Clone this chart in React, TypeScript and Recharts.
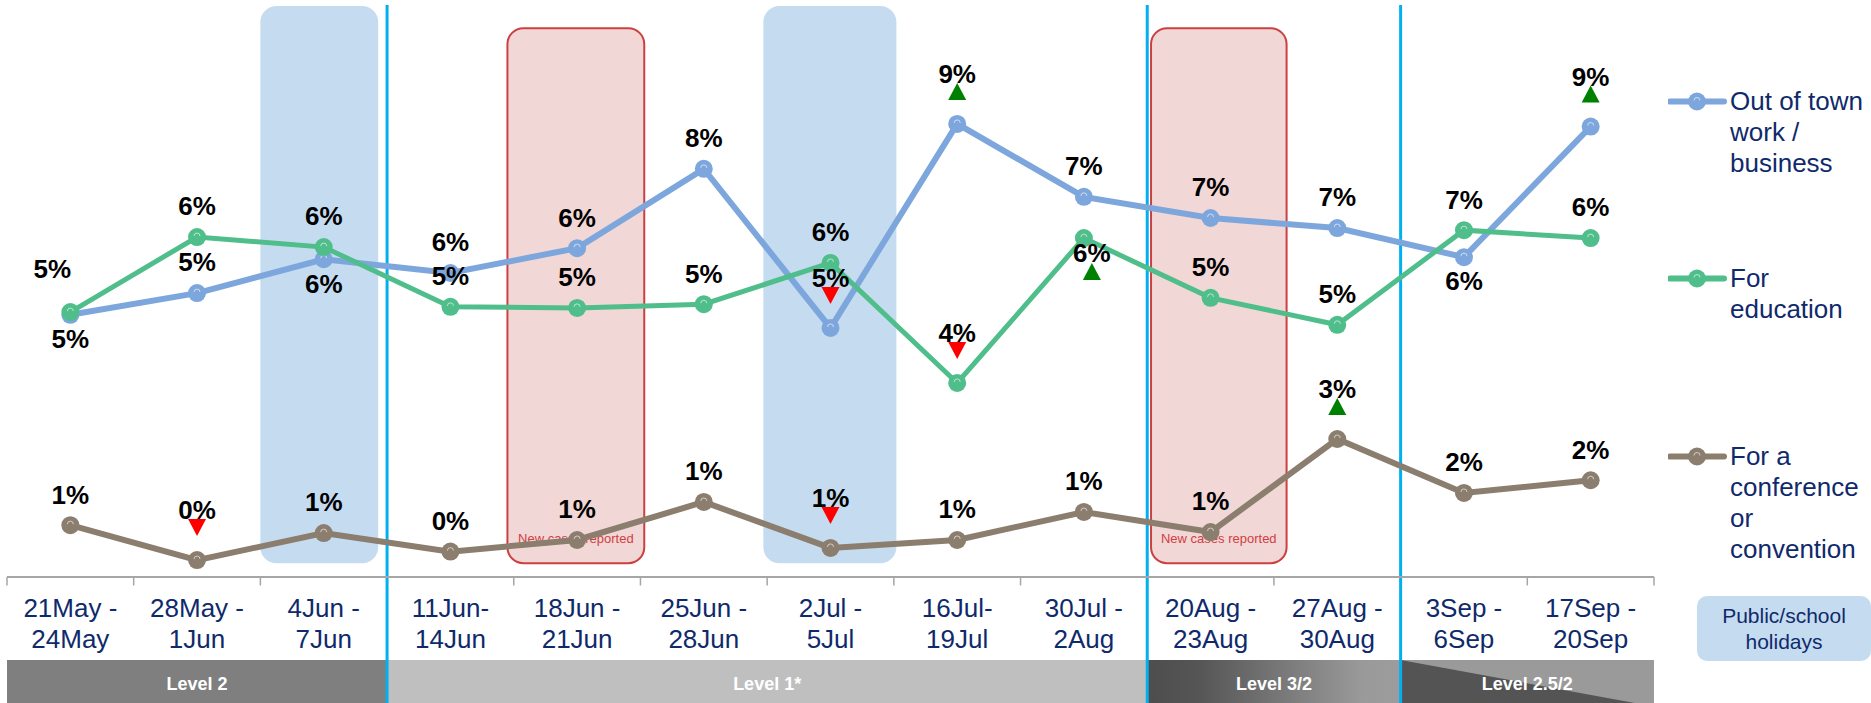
import React from 'react';
import {
  ComposedChart,
  Line,
  XAxis,
  YAxis,
  ReferenceArea,
  ReferenceLine,
  LabelList,
  Legend,
} from 'recharts';

// week tick labels (two lines each)
const weekStart = ['21May -', '28May -', '4Jun -', '11Jun-', '18Jun -', '25Jun -', '2Jul -', '16Jul-', '30Jul -', '20Aug -', '27Aug -', '3Sep -', '17Sep -'];
const weekEnd = ['24May', '1Jun', '7Jun', '14Jun', '21Jun', '28Jun', '5Jul', '19Jul', '2Aug', '23Aug', '30Aug', '6Sep', '20Sep'];

// % of travellers by purpose
const outOfTown = [4.96, 5.37, 6.01, 5.75, 6.22, 7.72, 4.71, 8.57, 7.19, 6.79, 6.6, 6.05, 8.52];
const education = [5.01, 6.43, 6.24, 5.11, 5.09, 5.16, 5.94, 3.67, 6.41, 5.28, 4.77, 6.56, 6.41];
const conference = [0.98, 0.32, 0.83, 0.48, 0.7, 1.42, 0.55, 0.7, 1.23, 0.85, 2.61, 1.59, 1.83];

// significant change vs previous wave
type Sig = 'up' | 'down' | null;
const outOfTownSig: Sig[] = [null, null, null, null, null, null, 'down', 'up', null, null, null, null, 'up'];
const educationSig: Sig[] = [null, null, null, null, null, null, null, 'down', 'up', null, null, null, null];
const conferenceSig: Sig[] = [null, 'down', null, null, null, null, 'down', null, null, null, 'up', null, null];

// alert levels and how many weeks each one covers
const levels = ['Level 2', 'Level 1*', 'Level 3/2', 'Level 2.5/2'];
const levelWeeks = [3, 6, 2, 2];

// weeks with holidays / new cases
const holidayWeeks = [2, 6];
const newCasesWeeks = [4, 9];

const seriesNames = ['Out of town work / business', 'For education', 'For a conference or convention'];

const data = weekStart.map((w, i) => ({
  i,
  outOfTown: outOfTown[i],
  education: education[i],
  conference: conference[i],
}));

const FONT = '"Liberation Sans", Arial, sans-serif';
const NAVY = '#0f2a6b';
const BLUE = '#7da7dc';
const GREEN = '#4fbe8a';
const BROWN = '#8b7e6e';

// annotation box extents, in week units
const holidaySpans = [[1.5, 2.43], [5.47, 6.52]];
const newCaseSpans = [[3.45, 4.53], [8.53, 9.6]];

const labelPlace: Record<string, Record<number, string>> = {
  outOfTown: { 0: 'below', 2: 'below', 11: 'below' },
  education: { 0: 'aboveLeft', 8: 'belowSig' },
  conference: {},
};

const makeDot = (color: string) => (p: any) => {
  const { cx, cy, index } = p;
  if (cx == null || cy == null) return <g key={index} />;
  return (
    <g key={`d${index}`}>
      <circle cx={cx} cy={cy} r={9} fill={color} />
      <path d={`M ${cx - 3} ${cy - 1} A 3 3 0 0 1 ${cx + 3} ${cy - 1}`} stroke="rgba(255,255,255,0.6)" strokeWidth={1} fill="none" />
    </g>
  );
};

const triangle = (tx: number, top: number, bottom: number, dir: Sig) => {
  if (dir === 'up')
    return <polygon points={`${tx - 9},${bottom} ${tx + 9},${bottom} ${tx},${top}`} fill="#008000" />;
  return <polygon points={`${tx - 9},${top} ${tx + 9},${top} ${tx},${bottom}`} fill="#ff0000" />;
};

const makeLabel = (values: number[], sig: Sig[], place: Record<number, string>) => (props: any) => {
  const { x, y, index } = props;
  if (x == null || y == null) return null;
  const s = sig[index];
  const p = place[index];
  let lx = x;
  let ly = y - 31;
  let tri: any = null;
  if (p === 'below') ly = y + 24;
  else if (p === 'aboveLeft') {
    lx = x - 18;
    ly = y - 43;
  } else if (p === 'belowSig') {
    lx = x + 8;
    ly = y + 15;
    tri = triangle(lx, y + 25, y + 42, s);
  } else if (s) {
    ly = y - 50;
    tri = triangle(x, y - 41, y - 24, s);
  }
  return (
    <g key={`l${index}`}>
      <text x={lx} y={ly} dy="0.36em" textAnchor="middle" fontFamily={FONT} fontWeight="bold" fontSize={26} fill="#000">
        {`${Math.round(values[index])}%`}
      </text>
      {tri}
    </g>
  );
};

const CatTick = (props: any) => {
  const { x, y, payload } = props;
  const i = payload.value;
  return (
    <text x={x} y={y} textAnchor="middle" fill={NAVY} fontFamily={FONT} fontSize={26}>
      <tspan x={x} dy={38}>{weekStart[i]}</tspan>
      <tspan x={x} dy={31}>{weekEnd[i]}</tspan>
    </text>
  );
};

const holidayShape = (p: any) => (
  <rect x={p.x} y={p.y} width={p.width} height={p.height} rx={16} ry={16} fill="#c5dcf0" />
);

const newCasesShape = (p: any) => (
  <g>
    <rect x={p.x} y={p.y} width={p.width} height={p.height} rx={16} ry={16} fill="#f2d7d7" stroke="#cc4040" strokeWidth={2} />
    <text x={p.x + p.width / 2} y={p.y + p.height - 20} textAnchor="middle" fontFamily={FONT} fontSize={13} fill="#d04040">
      New cases reported
    </text>
  </g>
);

const levelShape = (k: number) => (p: any) => {
  const { x, y, width, height } = p;
  let body: any;
  if (k === 0) body = <rect x={x} y={y} width={width} height={height} fill="#7f7f7f" />;
  else if (k === 1) body = <rect x={x} y={y} width={width} height={height} fill="#bfbfbf" />;
  else if (k === 2)
    body = (
      <g>
        <defs>
          <linearGradient id="lvl32" x1="0" y1="0" x2="1" y2="0">
            <stop offset="0" stopColor="#4d4d4d" />
            <stop offset="0.2" stopColor="#555555" />
            <stop offset="0.85" stopColor="#9a9a9a" />
            <stop offset="1" stopColor="#9c9c9c" />
          </linearGradient>
        </defs>
        <rect x={x} y={y} width={width} height={height} fill="url(#lvl32)" />
      </g>
    );
  else
    body = (
      <g>
        <rect x={x} y={y} width={width} height={height} fill="#9a9a9a" />
        <polygon points={`${x},${y} ${x + width},${y + height} ${x},${y + height}`} fill="#545454" />
      </g>
    );
  return (
    <g>
      {body}
      <text x={x + width / 2} y={y + height / 2} dy="0.36em" textAnchor="middle" fontFamily={FONT} fontWeight="bold" fontSize={18} fill="#fff">
        {levels[k]}
      </text>
    </g>
  );
};

const levelBounds: number[][] = [];
{
  let start = -0.5;
  levelWeeks.forEach((n) => {
    levelBounds.push([start, start + n]);
    start += n;
  });
}
const weekBounds = [...weekStart.map((_, i) => i - 0.5), 12.5];

const legendRows = [86, 263, 441];
const legendColors = [BLUE, GREEN, BROWN];

const renderLegend = () => (
  <div style={{ position: 'relative', width: 0, height: 0 }}>
    {seriesNames.map((name, k) => (
      <div key={name} style={{ position: 'absolute', left: 1668, top: legendRows[k], width: 210 }}>
        <svg width={60} height={31} style={{ position: 'absolute', left: 0, top: 0 }}>
          <line x1={2} y1={15.5} x2={56} y2={15.5} stroke={legendColors[k]} strokeWidth={6} strokeLinecap="round" />
          <circle cx={29} cy={15.5} r={9} fill={legendColors[k]} />
          <path d="M 26 14.5 A 3 3 0 0 1 32 14.5" stroke="rgba(255,255,255,0.6)" strokeWidth={1} fill="none" />
        </svg>
        <div style={{ position: 'absolute', left: 62, top: 0, width: 142, fontFamily: FONT, fontSize: 26, lineHeight: '31px', color: NAVY, textAlign: 'left' }}>
          {name}
        </div>
      </div>
    ))}
    <div
      style={{
        position: 'absolute',
        left: 1697,
        top: 596,
        width: 174,
        height: 65,
        background: '#c5dcf0',
        borderRadius: 10,
        fontFamily: FONT,
        fontSize: 21,
        lineHeight: '26px',
        color: NAVY,
        textAlign: 'center',
        display: 'flex',
        flexDirection: 'column',
        justifyContent: 'center',
      }}
    >
      <div>Public/school</div>
      <div>holidays</div>
    </div>
  </div>
);

export default function App() {
  return (
    <div style={{ position: 'absolute', left: 0, top: 0, width: 1871, height: 703, background: '#fff', overflow: 'hidden' }}>
      <ComposedChart width={1871} height={703} data={data} margin={{ top: 6, right: 217, bottom: 66, left: 7 }}>
        <XAxis
          xAxisId="cat"
          type="number"
          dataKey="i"
          domain={[-0.5, 12.5]}
          allowDataOverflow
          ticks={weekStart.map((_, i) => i)}
          interval={0}
          tickLine={false}
          tickSize={0}
          height={60}
          tick={<CatTick />}
          axisLine={{ stroke: '#a6a6a6', strokeWidth: 2 }}
        />
        <YAxis hide domain={[0, 10.8]} allowDataOverflow />

        {holidayWeeks.map((w, k) => (
          <ReferenceArea key={`h${w}`} xAxisId="cat" x1={holidaySpans[k][0]} x2={holidaySpans[k][1]} y1={0.26} y2={10.8} ifOverflow="visible" shape={holidayShape} />
        ))}
        {newCasesWeeks.map((w, k) => (
          <ReferenceArea key={`n${w}`} xAxisId="cat" x1={newCaseSpans[k][0]} x2={newCaseSpans[k][1]} y1={0.26} y2={10.38} ifOverflow="visible" shape={newCasesShape} />
        ))}
        {levels.map((lv, k) => (
          <ReferenceArea key={lv} xAxisId="cat" x1={levelBounds[k][0]} x2={levelBounds[k][1]} y1={-1.57} y2={-2.45} ifOverflow="visible" shape={levelShape(k)} />
        ))}
        {/* tick marks between weeks */}
        {weekBounds.map((b) => (
          <ReferenceLine
            key={`t${b}`}
            xAxisId="cat"
            ifOverflow="visible"
            segment={[{ x: b, y: 0 }, { x: b, y: -0.16 }]}
            stroke="#a6a6a6"
            strokeWidth={1.5}
          />
        ))}
        {levelBounds.slice(1).map((b) => (
          <ReferenceLine
            key={`v${b[0]}`}
            xAxisId="cat"
            ifOverflow="visible"
            segment={[{ x: b[0], y: 10.82 }, { x: b[0], y: -2.45 }]}
            stroke="#00b0f0"
            strokeWidth={3}
          />
        ))}

        <Line xAxisId="cat" dataKey="outOfTown" name={seriesNames[0]} stroke={BLUE} strokeWidth={6} dot={makeDot(BLUE)} activeDot={false} isAnimationActive={false} />
        <Line xAxisId="cat" dataKey="education" name={seriesNames[1]} stroke={GREEN} strokeWidth={5} dot={makeDot(GREEN)} activeDot={false} isAnimationActive={false} />
        <Line xAxisId="cat" dataKey="conference" name={seriesNames[2]} stroke={BROWN} strokeWidth={6} dot={makeDot(BROWN)} activeDot={false} isAnimationActive={false} />

        {/* labels drawn last so they sit above every line */}
        <Line xAxisId="cat" dataKey="outOfTown" stroke="none" dot={false} activeDot={false} legendType="none" isAnimationActive={false}>
          <LabelList content={makeLabel(outOfTown, outOfTownSig, labelPlace.outOfTown)} />
        </Line>
        <Line xAxisId="cat" dataKey="education" stroke="none" dot={false} activeDot={false} legendType="none" isAnimationActive={false}>
          <LabelList content={makeLabel(education, educationSig, labelPlace.education)} />
        </Line>
        <Line xAxisId="cat" dataKey="conference" stroke="none" dot={false} activeDot={false} legendType="none" isAnimationActive={false}>
          <LabelList content={makeLabel(conference, conferenceSig, labelPlace.conference)} />
        </Line>

        <Legend
          layout="horizontal"
          verticalAlign="middle"
          align="center"
          content={renderLegend}
          wrapperStyle={{ left: 0, top: 0, width: 0, height: 0 }}
        />
      </ComposedChart>
    </div>
  );
}
